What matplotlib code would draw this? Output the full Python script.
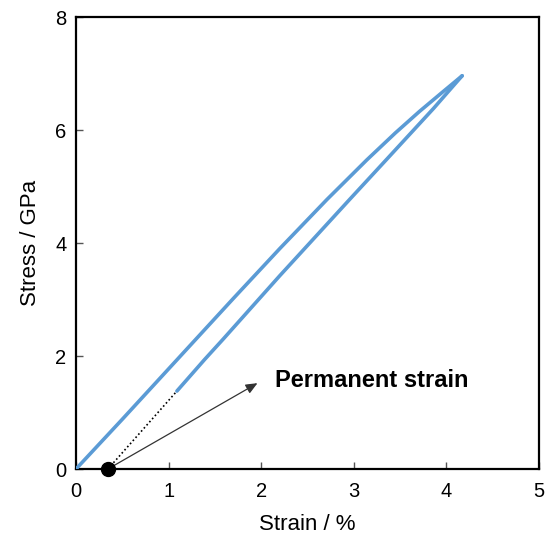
import matplotlib
matplotlib.use("Agg")
import matplotlib.pyplot as plt

plt.rcParams['font.family'] = ['Liberation Sans', 'DejaVu Sans']

# loading branch (upper)
load_strain = [0.0, 0.50, 1.10, 1.70, 2.20, 2.71, 3.14, 3.45, 3.71, 3.95, 4.17]
load_stress = [0.0, 0.88, 1.95, 3.02, 3.90, 4.77, 5.47, 5.95, 6.33, 6.66, 6.96]
# unloading branch (lower)
unload_strain = [4.17, 4.02, 3.86, 3.36, 2.96, 2.20, 1.59, 1.39, 1.09]
unload_stress = [6.96, 6.68, 6.38, 5.49, 4.78, 3.42, 2.30, 1.94, 1.38]
# permanent strain point
perm_strain = 0.345
perm_stress = 0.0
arrow_tip = (1.96, 1.52)
label_text = "Permanent strain"
label_pos = (2.15, 1.57)

fig = plt.figure(figsize=(5.49, 5.37), dpi=100)
ax = fig.add_axes([0.1384, 0.1266, 0.8434, 0.8417])

blue = '#5B9BD5'
ax.plot(load_strain, load_stress, color=blue, lw=2.6, solid_capstyle='round',
        solid_joinstyle='round', zorder=3)
ax.plot(unload_strain, unload_stress, color=blue, lw=2.6, solid_capstyle='round',
        solid_joinstyle='round', zorder=3)

ax.plot([perm_strain, unload_strain[-1]], [perm_stress, unload_stress[-1]],
        color='black', lw=1.2, ls=(0, (1, 1.5)), zorder=2)
ax.annotate('', xy=arrow_tip, xytext=(perm_strain, perm_stress),
            arrowprops=dict(arrowstyle='-|>,head_length=0.7,head_width=0.3',
                            color='#333333', lw=0.9, shrinkA=0, shrinkB=0), zorder=2)
ax.plot([perm_strain], [perm_stress], 'o', color='black', ms=10, clip_on=False, zorder=5)
ax.text(label_pos[0], label_pos[1], label_text, fontsize=17, fontweight='bold',
        ha='left', va='center')

ax.set_xlim(0, 5)
ax.set_ylim(0, 8)
ax.set_xticks([0, 1, 2, 3, 4, 5])
ax.set_yticks([0, 2, 4, 6, 8])
ax.tick_params(direction='in', length=5, width=1, labelsize=14.5, color='#555555')
ax.tick_params(axis='x', pad=9)
ax.tick_params(axis='y', pad=7)
for s in ax.spines.values():
    s.set_linewidth(1.6)
ax.set_xlabel('Strain / %', fontsize=16, labelpad=10)
ax.set_ylabel('Stress / GPa', fontsize=16, labelpad=10)

fig.savefig('out.png', dpi=100)
